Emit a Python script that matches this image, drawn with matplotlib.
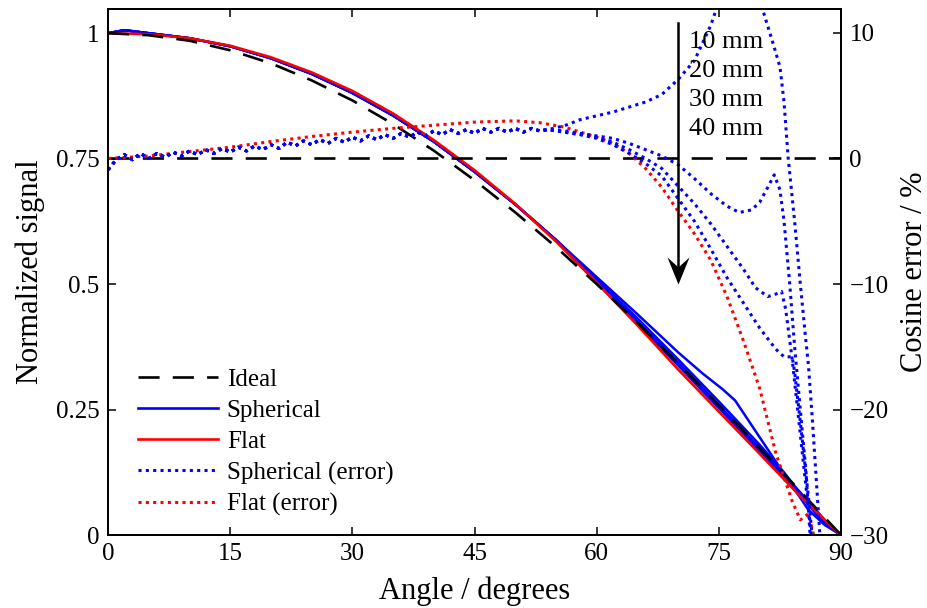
import numpy as np
import matplotlib
matplotlib.use("Agg")
import matplotlib.pyplot as plt
from matplotlib.path import Path
from matplotlib.lines import Line2D

plt.rcParams["font.family"] = ["Liberation Serif", "DejaVu Serif"]
plt.rcParams["axes.unicode_minus"] = True

# ----------------------------------------------------------------------
# Normalized signal vs angle (left axis)
# ----------------------------------------------------------------------
ang_ideal = [0, 5, 10, 15, 20, 25, 30, 35, 40, 45, 50, 55, 60, 65, 70, 75, 80, 85, 90]
sig_ideal = [1.0, 0.996, 0.985, 0.966, 0.940, 0.906, 0.866, 0.819, 0.766, 0.707,
             0.643, 0.574, 0.500, 0.423, 0.342, 0.259, 0.174, 0.087, 0.0]

ang_flat = [0, 5, 10, 15, 20, 25, 30, 35, 40, 45, 50, 55, 60, 65, 70, 75, 80, 85, 88, 90]
sig_flat = [1.0, 0.998, 0.99, 0.975, 0.952, 0.922, 0.885, 0.84, 0.787, 0.727,
            0.66, 0.585, 0.503, 0.418, 0.33, 0.246, 0.162, 0.077, 0.03, 0.0]

# shared part of the spherical curves (all four distances overlap here)
ang_sph_head = [0, 2, 5, 10, 15, 20, 25, 30, 35, 40, 45, 50, 55]
sig_sph_head = [1.0, 1.006, 1.0, 0.99, 0.974, 0.95, 0.919, 0.881, 0.836, 0.784,
                0.724, 0.659, 0.588]

ang_sph_10 = [60, 65, 70, 73, 75.5, 77, 80, 83, 86, 88, 90]
sig_sph_10 = [0.514, 0.44, 0.364, 0.322, 0.29, 0.268, 0.195, 0.122, 0.05, 0.02, 0.0]
ang_sph_20 = [60, 65, 70, 75, 80, 83, 86, 88, 90]
sig_sph_20 = [0.51, 0.432, 0.35, 0.266, 0.18, 0.125, 0.06, 0.022, 0.0]
ang_sph_30 = [60, 65, 70, 75, 80, 85, 88, 90]
sig_sph_30 = [0.506, 0.426, 0.344, 0.259, 0.173, 0.085, 0.03, 0.0]
ang_sph_40 = [60, 65, 70, 75, 80, 85, 88, 90]
sig_sph_40 = [0.503, 0.421, 0.338, 0.253, 0.168, 0.08, 0.028, 0.0]

# ----------------------------------------------------------------------
# Cosine error in % (right axis)
# ----------------------------------------------------------------------
ang_err_flat = [0, 5, 10, 15, 20, 25, 30, 35, 40, 45, 50, 53, 56, 58, 60, 62, 64,
                65, 66, 68, 70, 72, 74, 76, 78, 80, 82, 84, 85, 86, 87]
err_flat = [0.0, 0.2, 0.55, 0.9, 1.35, 1.75, 2.1, 2.4, 2.65, 2.9, 3.0, 2.85, 2.5,
            2.1, 1.7, 1.2, 0.4, -0.2, -0.8, -2.3, -4.2, -6.0, -8.1, -11.0, -14.5,
            -18.3, -23.5, -27.3, -28.8, -28.3, -31.0]

# noisy shared beginning of the spherical error curves, one value per degree
ang_err_sph_head = list(range(0, 55))
err_sph_head = [-0.9, -0.1, 0.3, -0.1, 0.4, 0.0, 0.4, 0.1, 0.5, 0.2,
                0.6, 0.3, 0.7, 0.4, 0.8, 0.5, 0.9, 0.6, 1.0, 0.7,
                1.1, 0.8, 1.3, 1.0, 1.4, 1.1, 1.5, 1.2, 1.6, 1.3,
                1.7, 1.4, 1.8, 1.5, 1.9, 1.6, 2.0, 1.7, 2.1, 1.8,
                2.2, 1.9, 2.3, 2.0, 2.3, 2.0, 2.4, 2.1, 2.4, 2.1,
                2.4, 2.1, 2.4, 2.2, 2.3]

ang_err_sph_10 = [56, 58, 60, 62, 64, 66, 68, 70, 72, 74, 75, 77, 79, 80, 80.5,
                  81.5, 82.5, 83, 83.5, 84.3, 85, 85.6, 86, 86.5, 87, 87.3, 87.5]
err_sph_10 = [2.6, 3.1, 3.4, 3.7, 4.1, 4.5, 5.1, 6.3, 7.8, 10.6, 12.5, 14.5, 14.0,
              12.5, 11.6, 9.5, 7.3, 4.5, 0.1, -5.0, -10.0, -14.0, -16.5, -21.0,
              -26.0, -29.0, -31.0]
ang_err_sph_20 = [56, 58, 60, 62, 64, 66, 68, 70, 72, 74, 76, 77.5, 79, 80, 81,
                  81.8, 82.5, 83, 83.7, 84.3, 85, 85.7, 86.3]
err_sph_20 = [2.2, 2.0, 1.8, 1.6, 1.2, 0.7, 0.2, -0.5, -1.6, -2.8, -3.8, -4.3,
              -4.1, -3.5, -2.3, -1.3, -2.5, -5.0, -10.0, -15.0, -20.0, -25.0, -31.0]
ang_err_sph_30 = [56, 58, 60, 62, 64, 66, 68, 70, 72, 74, 76, 78, 79.5, 81, 82,
                  82.7, 83.2, 84, 85, 86, 86.5]
err_sph_30 = [2.1, 1.9, 1.7, 1.3, 0.7, 0.0, -0.8, -2.2, -3.6, -5.2, -7.0, -8.8,
              -10.3, -11.0, -10.8, -10.6, -12.0, -16.0, -22.0, -28.0, -31.0]
ang_err_sph_40 = [56, 58, 60, 62, 64, 66, 68, 70, 72, 74, 76, 78, 80, 82, 83, 84,
                  84.3, 85, 86, 86.6]
err_sph_40 = [2.1, 1.9, 1.6, 1.1, 0.4, -0.4, -1.4, -3.2, -5.0, -7.2, -9.5, -11.5,
              -13.5, -15.2, -15.8, -15.8, -17.0, -21.0, -27.0, -31.0]

distance_labels = ["10 mm", "20 mm", "30 mm", "40 mm"]
legend_labels = ["Ideal", "Spherical", "Flat", "Spherical (error)", "Flat (error)"]

BLUE = "#0000ff"
RED = "#ff0000"
DASH = (0, (8, 5))
DOT = (0, (1, 1.4))

fig = plt.figure(figsize=(9.28, 6.08), dpi=100)
ax = fig.add_axes([0.1164, 0.12, 0.7899, 0.865])
ax2 = ax.twinx()

# signal curves
ax.plot(ang_ideal, sig_ideal, color="black", lw=1.9, ls=DASH, zorder=4)
for a_tail, s_tail in ((ang_sph_10, sig_sph_10), (ang_sph_20, sig_sph_20),
                       (ang_sph_30, sig_sph_30), (ang_sph_40, sig_sph_40)):
    ax.plot(ang_sph_head + a_tail, sig_sph_head + s_tail, color=BLUE, lw=1.8, zorder=2)
ax.plot(ang_flat, sig_flat, color=RED, lw=1.9, zorder=3)

# error curves
ax2.axhline(0, color="black", lw=1.9, ls=DASH)
ax2.plot(ang_err_flat, err_flat, color=RED, lw=2.2, ls=DOT)
for a_tail, e_tail in ((ang_err_sph_10, err_sph_10), (ang_err_sph_20, err_sph_20),
                       (ang_err_sph_30, err_sph_30), (ang_err_sph_40, err_sph_40)):
    ax2.plot(ang_err_sph_head + a_tail, err_sph_head + e_tail, color=BLUE,
             lw=2.2, ls=DOT)

# distance annotation with a downward arrow
for i, lab in enumerate(distance_labels):
    ax2.text(71.3, 9.3 - 2.32 * i, lab, fontsize=19, va="center", ha="left")
ax2.plot([70, 70], [10.8, -8.8], color="black", lw=1.8)
head = Path([(0, 0), (11, 27), (0, 17), (-11, 27), (0, 0)],
            [Path.MOVETO, Path.LINETO, Path.LINETO, Path.LINETO, Path.CLOSEPOLY])
ax2.plot([70], [-10], marker=head, markersize=39, color="black",
         markeredgewidth=0, linestyle="none")

# axes
ax.set_xlim(0, 90)
ax.set_ylim(0, 1.048)
ax2.set_ylim(-30, 11.9)
ax.set_xticks([0, 15, 30, 45, 60, 75, 90])
ax.set_yticks([0, 0.25, 0.5, 0.75, 1])
ax.set_yticklabels(["0", "0.25", "0.5", "0.75", "1"])
ax2.set_yticks([-30, -20, -10, 0, 10])
ax.tick_params(axis="both", direction="in", length=6, width=1.1, labelsize=18,
               top=True, pad=6)
ax2.tick_params(axis="y", direction="in", length=6, width=1.1, labelsize=18, pad=6)
for a in (ax, ax2):
    for sp in a.spines.values():
        sp.set_linewidth(1.3)
ax.set_xlabel("Angle / degrees", fontsize=22, labelpad=8)
ax.set_ylabel("Normalized signal", fontsize=22, labelpad=8)
ax2.set_ylabel("Cosine error / %", fontsize=22, labelpad=8)

handles = [
    Line2D([], [], color="black", lw=1.9, ls=DASH),
    Line2D([], [], color=BLUE, lw=1.9),
    Line2D([], [], color=RED, lw=1.9),
    Line2D([], [], color=BLUE, lw=2.2, ls=DOT),
    Line2D([], [], color=RED, lw=2.2, ls=DOT),
]
ax2.legend(handles, legend_labels, loc="lower left", frameon=False, fontsize=18,
           handlelength=3.2, handletextpad=0.36, labelspacing=0.34,
           bbox_to_anchor=(0.010, -0.007))

fig.savefig("out.png", dpi=100)
